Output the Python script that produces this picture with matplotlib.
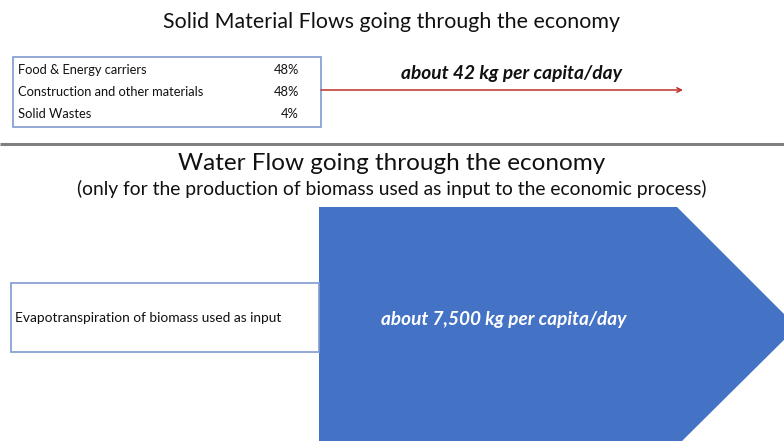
import matplotlib.pyplot as plt
from matplotlib.patches import Rectangle, Polygon

plt.rcParams['font.family'] = ['Lato', 'DejaVu Sans']

# data
categories = ['Food & Energy carriers', 'Construction and other materials', 'Solid Wastes']
shares = [48, 48, 4]
solid_flow_label = 'about 42 kg per capita/day'
water_flow_label = 'about 7,500 kg per capita/day'
water_input_label = 'Evapotranspiration of biomass used as input'
title_top = 'Solid Material Flows going through the economy'
title_bottom = 'Water Flow going through the economy'
subtitle_bottom = '(only for the production of biomass used as input to the economic process)'

W, H = 784, 441
fig = plt.figure(figsize=(W / 100, H / 100), dpi=100)
ax = fig.add_axes([0, 0, 1, 1])
ax.set_xlim(0, W)
ax.set_ylim(H, 0)
ax.axis('off')

blue = '#4472C4'
box_edge = '#7F9BD0'

# top part
ax.text(392, 22, title_top, ha='center', va='center', fontsize=15.4, color='#111111')
ax.add_patch(Rectangle((13, 57), 308, 70, fill=False, ec=box_edge, lw=1.2))
for i, (c, s) in enumerate(zip(categories, shares)):
    y = 70 + i * 22
    ax.text(18, y, c, ha='left', va='center', fontsize=9.3, color='#111111')
    ax.text(299, y, f'{s}%', ha='right', va='center', fontsize=9.3, color='#111111')

ax.annotate('', xy=(683, 90), xytext=(321, 90),
            arrowprops=dict(arrowstyle='->', color='#C0302B', lw=1.1,
                            mutation_scale=8, shrinkA=0, shrinkB=0))
ax.text(512, 74, solid_flow_label, ha='center', va='center', fontsize=13.8,
        fontweight='bold', fontstyle='italic', color='#111111')

# separator
ax.plot([0, W], [144, 144], color='#7F7F7F', lw=2.2, solid_capstyle='butt')

# bottom part
ax.text(392, 163, title_bottom, ha='center', va='center', fontsize=17.5, color='#111111')
ax.text(392, 189, subtitle_bottom, ha='center', va='center', fontsize=13.9, color='#111111')

ax.add_patch(Polygon([(319, 207), (677, 207), (797, 327), (682, 441), (319, 441)],
                     closed=True, fc=blue, ec='none'))
ax.add_patch(Rectangle((11, 283), 308, 69, fill=False, ec=box_edge, lw=1.2))
ax.text(15, 318, water_input_label, ha='left', va='center', fontsize=9.9, color='#111111')
ax.text(504, 319, water_flow_label, ha='center', va='center', fontsize=13.7,
        fontweight='bold', fontstyle='italic', color='white')

fig.savefig('out.png', dpi=100)
